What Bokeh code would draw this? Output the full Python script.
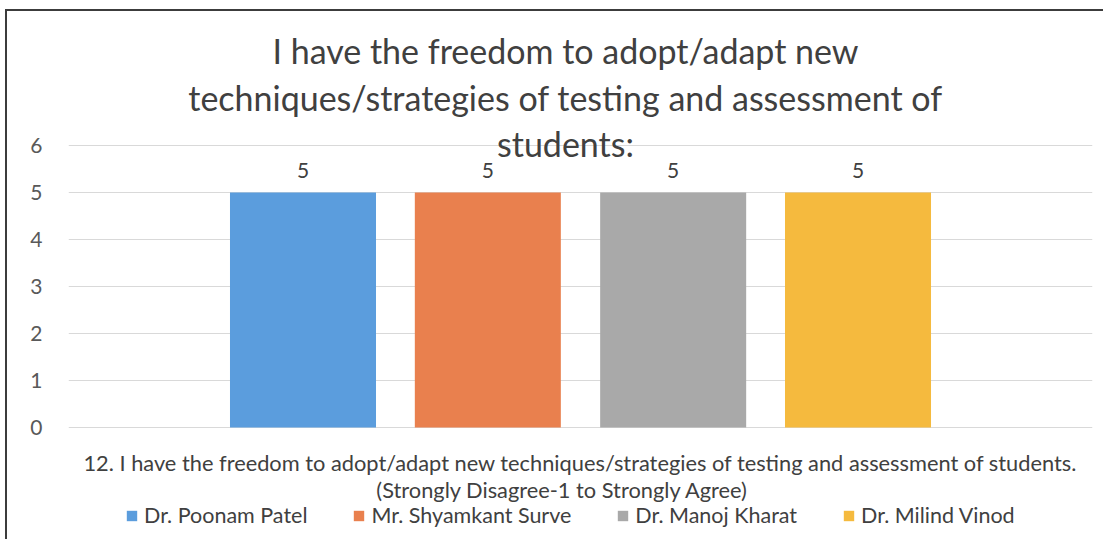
from bokeh.plotting import figure
from bokeh.models import ColumnDataSource, FactorRange, Range1d, FixedTicker
from bokeh.transform import dodge
from bokeh.core.properties import value
from bokeh.embed import file_html
from bokeh.resources import INLINE

# ---- data ----
title_lines = ["I have the freedom to adopt/adapt new",
               "techniques/strategies of testing and assessment of",
               "students:"]
category = "12. I have the freedom to adopt/adapt new techniques/strategies of testing and assessment of students."
category_note = "(Strongly Disagree-1 to Strongly Agree)"
series_names = ["Dr. Poonam Patel", "Mr. Shyamkant Surve", "Dr. Manoj Kharat", "Dr. Milind Vinod"]
series_values = [5, 5, 5, 5]
series_colors = ["#5b9ddd", "#e9804e", "#a9a9a9", "#f5ba3e"]
y_ticks = [0, 1, 2, 3, 4, 5, 6]

FONT = "Lato"
TXT = "#404040"

p = figure(width=1098, height=530, x_range=FactorRange(factors=[category], range_padding=0),
           y_range=Range1d(-2.4255, 8.851), output_backend="svg", toolbar_location=None,
           min_border_left=61, min_border_right=13, min_border_top=0, min_border_bottom=0)
p.styles = {"margin-left": "5px", "margin-top": "9px",
            "border-left": "2px solid #3c3c3c", "border-top": "2px solid #3c3c3c"}
p.outline_line_color = None
p.xaxis.visible = False
p.xgrid.visible = False
p.ygrid.ticker = FixedTicker(ticks=y_ticks)
p.ygrid.grid_line_color = "#d9d9d9"
p.yaxis.ticker = FixedTicker(ticks=y_ticks)
p.yaxis.axis_line_color = None
p.yaxis.major_tick_line_color = None
p.yaxis.minor_tick_line_color = None
p.yaxis.major_label_standoff = 20
p.yaxis.major_label_text_font = FONT
p.yaxis.major_label_text_font_size = "21px"
p.yaxis.major_label_text_color = "#595959"

bar_width = 0.1426
offsets = [-0.271, -0.0905, 0.0905, 0.271]
for name, val, col, off in zip(series_names, series_values, series_colors, offsets):
    src = ColumnDataSource(dict(x=[category], top=[val], lab=[str(val)]))
    p.vbar(x=dodge("x", off, range=p.x_range), top="top", width=bar_width, source=src,
           fill_color=col, line_color=None, legend_label=name)
    p.text(x=dodge("x", off, range=p.x_range), y="top", text="lab", source=src,
           text_align="center", text_baseline="middle", y_offset=-22,
           text_font=value(FONT), text_font_size="21px", text_color=TXT)

# title
p.text(x=[category] * 3, y=[8.02, 7.02, 6.04], text=title_lines, x_offset=-15,
       text_align="center", text_baseline="middle",
       text_font=value(FONT), text_font_size="34px", text_color=TXT)
# category label
p.text(x=[category, category], y=[-0.745, -1.32], text=[category, category_note],
       x_offset=[0, -18], text_align="center", text_baseline="middle",
       text_font=value(FONT), text_font_size="21.8px", text_color=TXT)

lg = p.legend[0]
lg.orientation = "horizontal"
lg.location = (57, 13)
lg.glyph_width = 13
lg.glyph_height = 13
lg.label_standoff = 6
lg.spacing = 45
lg.padding = 0
lg.margin = 0
lg.border_line_color = None
lg.background_fill_alpha = 0
lg.label_text_font = FONT
lg.label_text_font_size = "21.5px"
lg.label_text_color = TXT

open("out.html", "w").write(file_html(p, INLINE))
